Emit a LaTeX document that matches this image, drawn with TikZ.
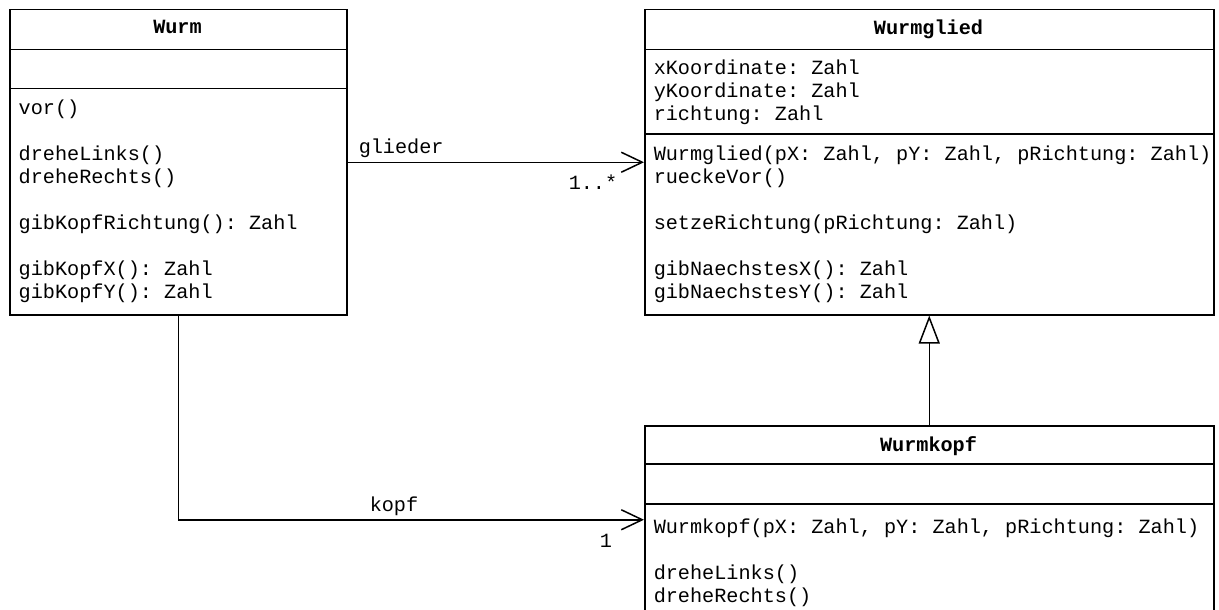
\documentclass[tikz,border=0pt]{standalone}
\usepackage{fontspec}
\setmainfont{Liberation Mono}
\frenchspacing
\usetikzlibrary{arrows.meta}
\begin{document}
\frenchspacing
\begin{tikzpicture}[x=1pt,y=-1pt,line width=1.5pt,
  classbox/.style={draw,rectangle,inner sep=0pt,anchor=north west},
  txt/.style={anchor=base west,inner sep=0pt,font=\fontsize{20.2}{23}\selectfont\frenchspacing},
  ttl/.style={anchor=base,inner sep=0pt,font=\fontsize{20.2}{23}\selectfont\bfseries},
  assoc/.style={-{Straight Barb[length=21pt,width=20pt]}},
  inherit/.style={-{Triangle[open,length=28pt,width=21pt]}}]
\useasboundingbox (0,0) rectangle (1219,610);
% boxes
\node[classbox,minimum width=337pt,minimum height=305pt] (wurm) at (9,9) {};
\node[classbox,minimum width=569pt,minimum height=305pt] (wurmglied) at (644,9) {};
\node[classbox,minimum width=569pt,minimum height=188pt] (wurmkopf) at (644,425) {};
% separators
\draw (wurm.west |- 0,49.5) -- (wurm.east |- 0,49.5);
\draw (wurm.west |- 0,88.5) -- (wurm.east |- 0,88.5);
\draw (wurmglied.west |- 0,49.5) -- (wurmglied.east |- 0,49.5);
\draw (wurmglied.west |- 0,134) -- (wurmglied.east |- 0,134);
\draw (wurmkopf.west |- 0,464) -- (wurmkopf.east |- 0,464);
\draw (wurmkopf.west |- 0,504) -- (wurmkopf.east |- 0,504);
% Wurm
\node[ttl] (wurmT) at (177.5,34) {Wurm};
\node[txt] (w1) at (18,114.5) {vor()};
\node[txt] (w2) at (18,160.5) {dreheLinks()};
\node[txt] (w3) at (18,183.5) {dreheRechts()};
\node[txt] (w4) at (18,229.5) {gibKopfRichtung(): Zahl};
\node[txt] (w5) at (18,275.5) {gibKopfX(): Zahl};
\node[txt] (w6) at (18,298.5) {gibKopfY(): Zahl};
% Wurmglied
\node[ttl] (wgT) at (928.5,34.5) {Wurmglied};
\node[txt] (ga1) at (653,75) {xKoordinate: Zahl};
\node[txt] (ga2) at (653,98) {yKoordinate: Zahl};
\node[txt] (ga3) at (653,121) {richtung: Zahl};
\node[txt] (gm1) at (653,160) {Wurmglied(pX: Zahl, pY: Zahl, pRichtung: Zahl)};
\node[txt] (gm2) at (653,183) {rueckeVor()};
\node[txt] (gm3) at (653,229) {setzeRichtung(pRichtung: Zahl)};
\node[txt] (gm4) at (653,275) {gibNaechstesX(): Zahl};
\node[txt] (gm5) at (653,298) {gibNaechstesY(): Zahl};
% Wurmkopf
\node[ttl] (wkT) at (928.5,451) {Wurmkopf};
\node[txt] (km1) at (653,533) {Wurmkopf(pX: Zahl, pY: Zahl, pRichtung: Zahl)};
\node[txt] (km2) at (653,579) {dreheLinks()};
\node[txt] (km3) at (653,602) {dreheRechts()};
% connectors
\draw[assoc] (wurm.east) -- (wurmglied.west);
\node[txt] (lg) at (358,153) {glieder};
\node[txt] (mg) at (568,189) {1..*};
\draw[assoc] (wurm.south) |- (wurmkopf.west);
\node[txt] (lk) at (369,511) {kopf};
\node[txt] (mk) at (599,547) {1};
\draw[inherit] (wurmkopf.north) -- (wurmglied.south);
\end{tikzpicture}
\end{document}
